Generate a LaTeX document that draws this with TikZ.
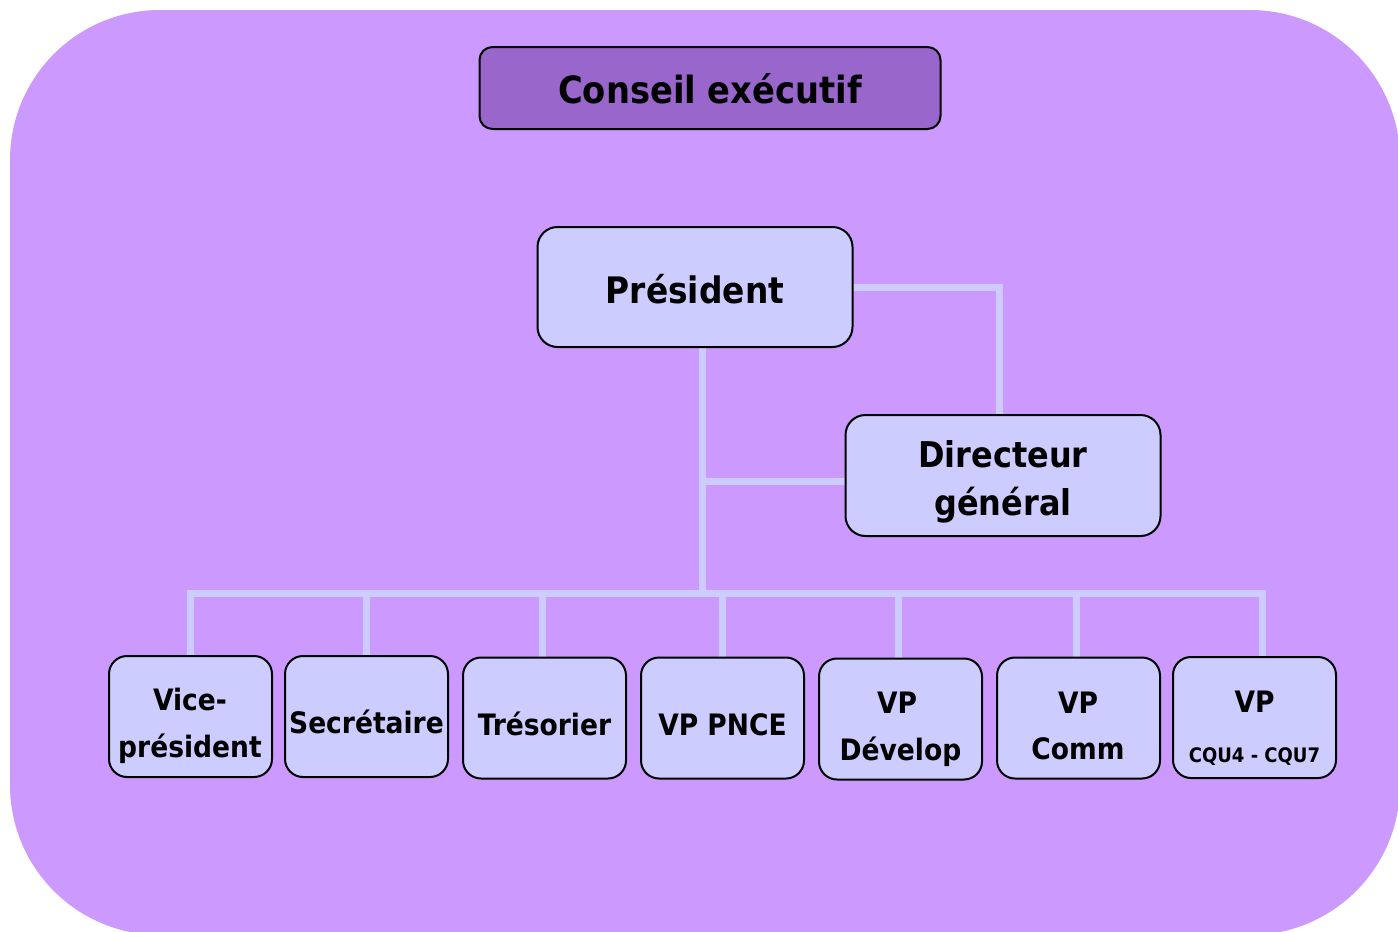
\documentclass[tikz,border=0pt]{standalone}
\usepackage{fontspec}
\setmainfont{DejaVu Sans Condensed}
\definecolor{bgpurple}{HTML}{CC99FF}
\definecolor{titlefill}{HTML}{9966CC}
\definecolor{boxfill}{HTML}{CCCCFF}
\definecolor{linecol}{HTML}{CCCCFF}
\pgfdeclarelayer{bg}
\pgfdeclarelayer{conns}
\pgfsetlayers{bg,conns,main}
\tikzset{
  orgbox/.style={draw=black, line width=2pt, fill=boxfill, rounded corners=18pt, inner sep=0pt, minimum width=163pt, minimum height=121pt},
  bigbox/.style={orgbox, minimum width=315pt, minimum height=120pt, rounded corners=20pt},
  titlebox/.style={draw=black, line width=2pt, fill=titlefill, rounded corners=13pt, inner sep=0pt, minimum width=461pt, minimum height=82pt},
  conn/.style={draw=linecol, line width=7pt, line cap=rect},
  lbl/.style={anchor=base, inner sep=0pt, font=\bfseries\fontsize{29.5}{29.5}\selectfont},
  biglbl/.style={lbl, font=\bfseries\fontsize{36.5}{36.5}\selectfont},
  smalllbl/.style={lbl, font=\bfseries\fontsize{20}{20}\selectfont}
}
\begin{document}
\begin{tikzpicture}[x=1pt,y=-1pt]
\useasboundingbox (0,0) rectangle (1398,932);
\begin{pgfonlayer}{bg}
\begin{scope}
\clip (0,0) rectangle (1398,932);
\fill[bgpurple, rounded corners=150pt] (10,10) rectangle (1400,935);
\end{scope}
\end{pgfonlayer}

% boxes
\node[titlebox] (ce) at (710,88) {};
\node[bigbox] (pres) at (695,287) {};
\node[bigbox, minimum height=121pt] (dg) at (1003,475.5) {};
\node[orgbox] (vp) at (190.5,716.5) {};
\node[orgbox] (sec) at (366.5,716.5) {};
\node[orgbox] (tres) at (544.5,718) {};
\node[orgbox] (pnce) at (722.5,718) {};
\node[orgbox] (dev) at (900.5,719) {};
\node[orgbox] (comm) at (1078.5,718) {};
\node[orgbox] (cqu) at (1254.5,717.5) {};

% texts
\node[lbl, font=\bfseries\fontsize{37.5}{37.5}\selectfont] (tce) at (710,103) {Conseil exécutif};
\node[biglbl] (tpres) at (695,303) {Président};
\node[lbl, font=\bfseries\fontsize{35.5}{35.5}\selectfont] (tdg1) at (1003,467) {Directeur};
\node[lbl, font=\bfseries\fontsize{35.5}{35.5}\selectfont] (tdg2) at (1003,515) {général};
\node[lbl] (tvp1) at (190,710) {Vice-};
\node[lbl] (tvp2) at (190,757) {président};
\node[lbl] (tsec) at (366.5,733) {Secrétaire};
\node[lbl] (ttres) at (544.5,735) {Trésorier};
\node[lbl] (tpnce) at (722.5,735) {VP PNCE};
\node[lbl] (tdev1) at (897,713) {VP};
\node[lbl] (tdev2) at (900.5,760) {Dévelop};
\node[lbl] (tcomm1) at (1078,713) {VP};
\node[lbl] (tcomm2) at (1078,759) {Comm};
\node[lbl] (tcqu1) at (1254.5,712) {VP};
\node[smalllbl] (tcqu2) at (1254.5,762) {CQU4 - CQU7};

% connectors
\coordinate (j) at (702,593);
\coordinate (jl) at (190,593);
\coordinate (jr) at (1262,593);
\coordinate (k) at (999,287);
\begin{pgfonlayer}{conns}
\draw[conn] (pres.south -| j) -- (j);
\draw[conn] (jl) -- (jr);
\draw[conn] (jl) -- (vp.north -| jl);
\draw[conn] ([xshift=-0.5pt]sec.north |- j) -- ([xshift=-0.5pt]sec.north);
\draw[conn] ([xshift=-2.5pt]tres.north |- j) -- ([xshift=-2.5pt]tres.north);
\draw[conn] ([xshift=-0.5pt]pnce.north |- j) -- ([xshift=-0.5pt]pnce.north);
\draw[conn] ([xshift=-2.5pt]dev.north |- j) -- ([xshift=-2.5pt]dev.north);
\draw[conn] ([xshift=-2.5pt]comm.north |- j) -- ([xshift=-2.5pt]comm.north);
\draw[conn] (jr) -- (cqu.north -| jr);
\draw[conn] (pres.east) -- (k) -- (dg.north -| k);
\draw[conn] ([yshift=-5.5pt]dg.west) -- ([yshift=-5.5pt]dg.west -| j);
\end{pgfonlayer}
\end{tikzpicture}
\end{document}
